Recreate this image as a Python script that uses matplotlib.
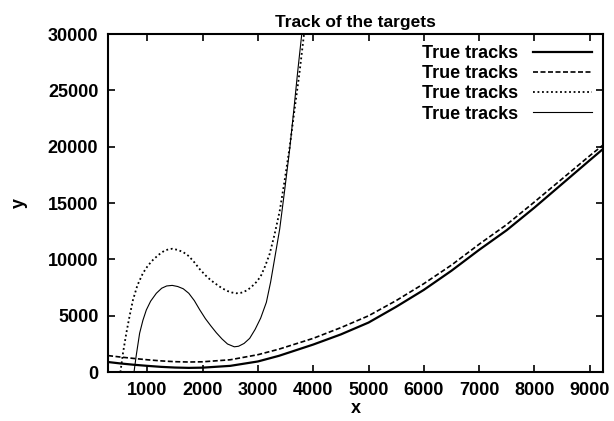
import matplotlib.pyplot as plt

plt.rcParams['font.family'] = ['Liberation Sans', 'DejaVu Sans']
plt.rcParams['font.weight'] = 'bold'

# track 1 (thick solid) and track 2 (dashed): slow quadratic-like tracks
x_slow = [290, 500, 750, 1000, 1250, 1500, 1750, 2000, 2500, 3000, 3380, 4000,
          4500, 5000, 5500, 6000, 6500, 7000, 7500, 8000, 8500, 9000, 9240]
y_track1 = [900, 780, 660, 560, 470, 410, 380, 400, 560, 950, 1450, 2450,
            3350, 4400, 5800, 7300, 9000, 10850, 12600, 14600, 16700, 18800, 19800]
y_track2 = [1470, 1350, 1220, 1100, 1000, 930, 900, 920, 1100, 1550, 2040, 3000,
            3950, 5000, 6350, 7850, 9500, 11350, 13100, 15100, 17150, 19200, 20150]

# track 3 (dotted): cubic-like track
x_track3 = [513, 560, 620, 680, 740, 820, 920, 1010, 1100, 1200, 1300, 1380, 1450,
            1550, 1650, 1750, 1850, 1946, 2050, 2150, 2248, 2350, 2450, 2530, 2610,
            2700, 2800, 2880, 2972, 3050, 3130, 3213, 3300, 3394, 3480, 3575, 3660,
            3750, 3834]
y_track3 = [0, 1700, 3460, 5000, 6400, 7700, 8780, 9450, 9950, 10400, 10750, 10900, 10950,
            10850, 10650, 10300, 9750, 9150, 8600, 8150, 7800, 7450, 7200, 7070, 7000,
            7050, 7250, 7550, 8000, 8500, 9400, 10500, 12200, 14300, 16900, 20000, 23200,
            26500, 30000]

# track 4 (thin solid)
x_track4 = [759, 800, 861, 920, 982, 1060, 1163, 1260, 1350, 1450, 1550, 1650, 1750,
            1850, 1946, 2050, 2150, 2248, 2350, 2450, 2573, 2650, 2750, 2851, 2950,
            3050, 3153, 3230, 3300, 3394, 3480, 3575, 3650, 3720, 3793]
y_track4 = [0, 1500, 3460, 4600, 5520, 6300, 7000, 7450, 7650, 7700, 7600, 7400, 7000,
            6350, 5550, 4750, 4100, 3500, 2950, 2500, 2250, 2300, 2550, 3000, 3800,
            4800, 6200, 8000, 10000, 12700, 16000, 19800, 23300, 26700, 30000]

label = "True tracks"

fig = plt.figure(figsize=(6.14, 4.21), dpi=100)
ax = fig.add_axes([0.176, 0.116, 0.806, 0.803])

ax.plot(x_slow, y_track1, "-", color="black", lw=1.6, label=label)
ax.plot(x_slow, y_track2, color="black", lw=1.2, ls=(0, (3, 1.5)), label=label)
ax.plot(x_track3, y_track3, color="black", lw=1.3, ls=(0, (1, 1.5)), label=label)
ax.plot(x_track4, y_track4, "-", color="black", lw=0.8, label=label)

ax.set_xlim(290, 9240)
ax.set_ylim(0, 30000)
ax.set_xticks(range(1000, 9001, 1000))
ax.set_yticks(range(0, 30001, 5000))
ax.tick_params(direction="in", top=True, right=True, length=5, width=1.2,
               labelsize=13, pad=7)
for s in ax.spines.values():
    s.set_linewidth(1.5)

ax.set_title("Track of the targets", fontsize=12.5, fontweight="bold", pad=5)
ax.set_xlabel("x", fontsize=13, fontweight="bold", labelpad=1)
ax.set_ylabel("y", fontsize=13, fontweight="bold", labelpad=14, rotation=90)

ax.legend(loc="upper right", markerfirst=False, frameon=False, fontsize=13,
          handlelength=3.3, labelspacing=0.18, borderaxespad=0.2, handletextpad=0.8)

fig.savefig("out.png", dpi=100)
